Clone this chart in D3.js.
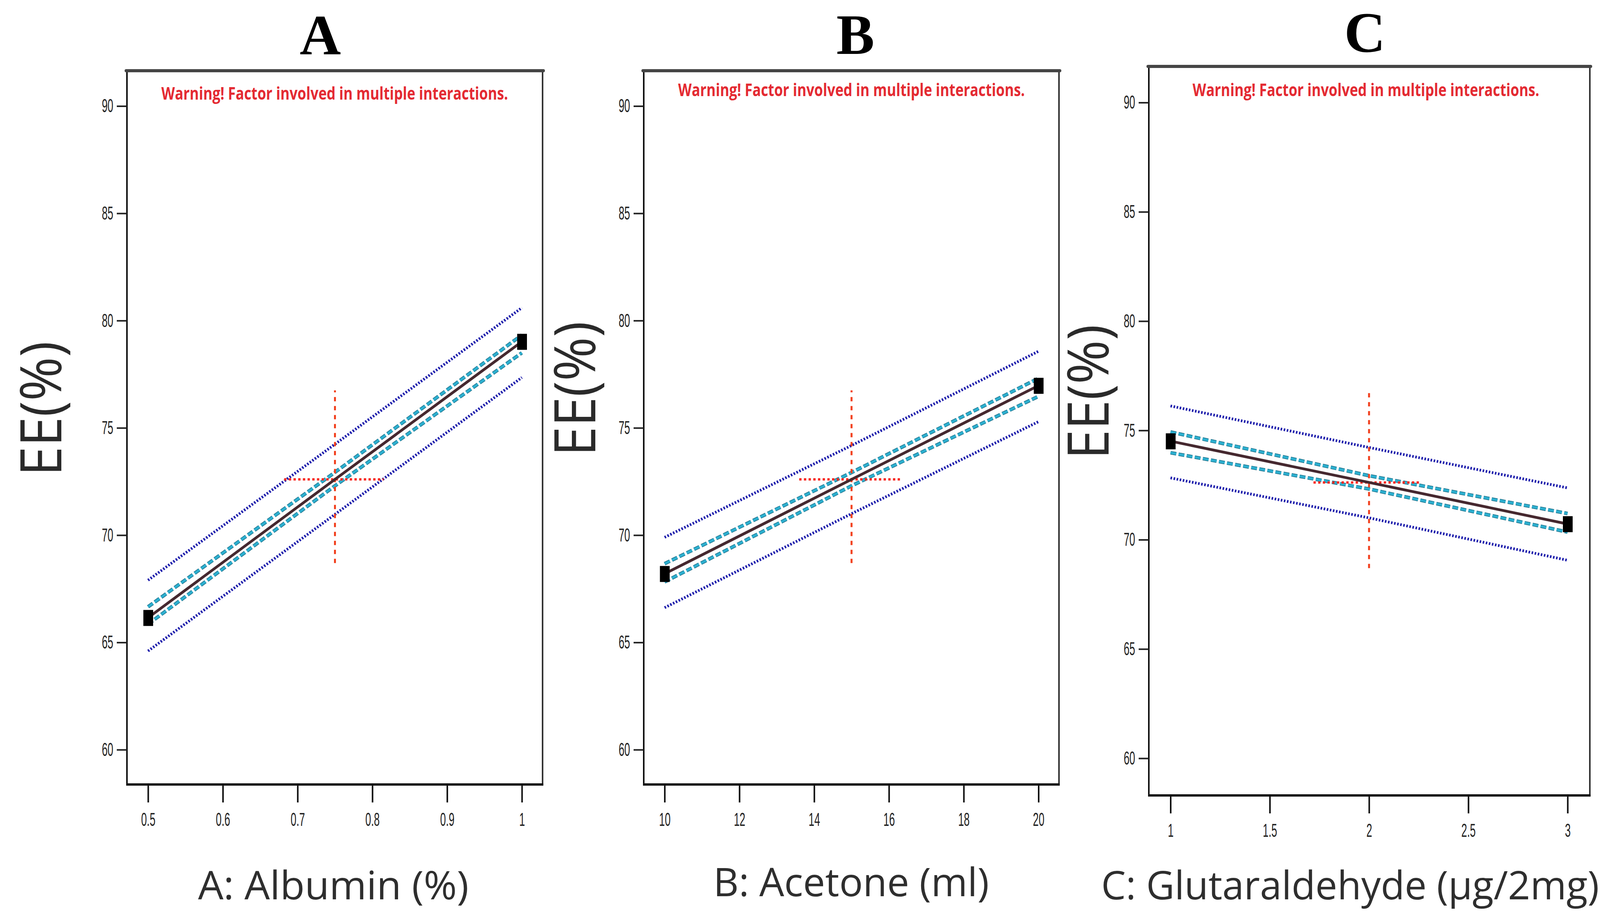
<!DOCTYPE html>
<head>
  <meta charset="utf-8">
  <script src="https://d3js.org/d3.v7.min.js"></script>
  <style>
    body { margin: 0; background: #fff; }
  </style>
</head>
<body>
<div id="vis"></div>
<script>
// ---- data ----
const panelLetters = ["A", "B", "C"];
const xTitles = ["A: Albumin (%)", "B: Acetone (ml)", "C: Glutaraldehyde (\u03bcg/2mg)"];
const yTitle = "EE(%)";
const warningText = "Warning! Factor involved in multiple interactions.";
const yTicks = [60, 65, 70, 75, 80, 85, 90];
const xTicksA = [0.5, 0.6, 0.7, 0.8, 0.9, 1];
const xTicksB = [10, 12, 14, 16, 18, 20];
const xTicksC = [1, 1.5, 2, 2.5, 3];

// factor levels: low, centre, high
const xA = [0.5, 0.75, 1];
const fitA = [66.15, 72.6, 79.02];
const ciHiA = [66.66, 72.93, 79.33];
const ciLoA = [65.85, 72.3, 78.5];
const piHiA = [67.9, 74.24, 80.6];
const piLoA = [64.6, 70.97, 77.35];

const xB = [10, 15, 20];
const fitB = [68.2, 72.6, 76.97];
const ciHiB = [68.67, 72.92, 77.31];
const ciLoB = [67.82, 72.3, 76.47];
const piHiB = [69.9, 74.18, 78.57];
const piLoB = [66.62, 71.0, 75.29];

const xC = [1, 2, 3];
const fitC = [74.51, 72.62, 70.72];
const ciHiC = [74.93, 72.93, 71.2];
const ciLoC = [73.98, 72.32, 70.35];
const piHiC = [76.12, 74.22, 72.37];
const piLoC = [72.83, 71.0, 69.06];

// red cross at the centre point: horizontal extent, vertical extent
const crossHA = [0.682, 0.815];
const crossHB = [13.6, 16.3];
const crossHC = [1.72, 2.26];
const crossV = [68.7, 76.75];

// ---- layout ----
const W = 4135, H = 2360;
const svg = d3.select('#vis').append('svg')
  .attr('width', W).attr('height', H)
  .style('background', '#fff');

const panels = [
  { x: xA, fit: fitA, ciHi: ciHiA, ciLo: ciLoA, piHi: piHiA, piLo: piLoA, ticks: xTicksA, crossH: crossHA,
    box: { l: 325, r: 1389, t: 181, b: 2008 }, xr: [379, 1336], yr: [1919, 271.5],
    title: [820, 139], warn: [413, 255], xt: [507, 2302], xtLen: 693, yt: [157, 1046] },
  { x: xB, fit: fitB, ciHi: ciHiB, ciLo: ciLoB, piHi: piHiB, piLo: piLoB, ticks: xTicksB, crossH: crossHB,
    box: { l: 1648, r: 2711, t: 181, b: 2008 }, xr: [1701.4, 2658.5], yr: [1919, 271.5],
    title: [2190, 138], warn: [1736, 246], xt: [1826, 2294], xtLen: 706, yt: [1524, 995] },
  { x: xC, fit: fitC, ciHi: ciHiC, ciLo: ciLoC, piHi: piHiC, piLo: piLoC, ticks: xTicksC, crossH: crossHC,
    box: { l: 2941, r: 4070, t: 170, b: 2036 }, xr: [2996.5, 4013], yr: [1941, 262.5],
    title: [3494, 133], warn: [3053, 246], xt: [2819, 2302], xtLen: 1275, yt: [2838, 1003] }
];

// squeeze a text horizontally to a given width (start anchored)
function fitText(sel, x0, y0, width, rotate) {
  const w = sel.node().getComputedTextLength();
  const s = width / w;
  if (rotate) {
    sel.attr('text-anchor', 'middle')
      .attr('transform', `translate(${x0},${y0}) rotate(-90) scale(${s},1)`);
  } else {
    sel.attr('text-anchor', 'start')
      .attr('transform', `translate(${x0},${y0}) scale(${s},1)`);
  }
}

function drawPanel(p, i) {
  const g = svg.append('g');
  const x = d3.scaleLinear().domain([p.x[0], p.x[2]]).range(p.xr);
  const y = d3.scaleLinear().domain([60, 90]).range(p.yr);
  const b = p.box;

  // panel letter
  g.append('text')
    .attr('x', p.title[0]).attr('y', p.title[1])
    .attr('text-anchor', 'middle')
    .style('font-family', '"Liberation Serif", "Times New Roman", serif')
    .style('font-weight', 'bold')
    .style('font-size', '146px')
    .attr('fill', '#000')
    .text(panelLetters[i]);

  // frame
  g.append('line').attr('x1', b.l).attr('x2', b.l).attr('y1', b.t).attr('y2', b.b)
    .attr('stroke', '#111').attr('stroke-width', 4);
  g.append('line').attr('x1', b.r).attr('x2', b.r).attr('y1', b.t).attr('y2', b.b)
    .attr('stroke', '#333').attr('stroke-width', 4);
  g.append('line').attr('x1', b.l - 2).attr('x2', b.r + 2).attr('y1', b.b).attr('y2', b.b)
    .attr('stroke', '#111').attr('stroke-width', 6);
  g.append('line').attr('x1', b.l - 2).attr('x2', b.r + 2).attr('y1', b.t).attr('y2', b.t)
    .attr('stroke', '#454545').attr('stroke-width', 8).attr('stroke-linecap', 'round');

  // y axis
  const ya = g.append('g').attr('transform', `translate(${b.l},0)`)
    .call(d3.axisLeft(y).tickValues(yTicks).tickSize(26).tickPadding(9).tickFormat(d3.format('d')));
  ya.select('.domain').remove();
  ya.selectAll('.tick line').attr('stroke', '#222').attr('stroke-width', 4);
  ya.selectAll('.tick text')
    .attr('x', -35 / 0.55)
    .attr('transform', 'scale(0.55,1)')
    .style('font-family', '"Liberation Sans", Arial, sans-serif')
    .style('font-size', '48px')
    .attr('fill', '#222');

  // x axis
  const xa = g.append('g').attr('transform', `translate(0,${b.b})`)
    .call(d3.axisBottom(x).tickValues(p.ticks).tickSize(46).tickPadding(26).tickFormat(d => String(d)));
  xa.select('.domain').remove();
  xa.selectAll('.tick line').attr('stroke', '#111').attr('stroke-width', 4);
  xa.selectAll('.tick text')
    .attr('transform', 'scale(0.55,1)')
    .style('font-family', '"Liberation Sans", Arial, sans-serif')
    .style('font-size', '48px')
    .attr('fill', '#222');

  // warning text
  const warn = g.append('text')
    .style('font-family', '"Open Sans", "Noto Sans", sans-serif')
    .style('font-weight', 'bold')
    .style('font-size', '44px')
    .attr('fill', '#e42a32')
    .text(warningText);
  fitText(warn, p.warn[0], p.warn[1], 888);

  // axis titles
  const xt = g.append('text')
    .style('font-family', '"Open Sans", "Noto Sans", sans-serif')
    .style('font-size', '101px')
    .attr('fill', '#2e2e2e')
    .text(xTitles[i]);
  fitText(xt, p.xt[0], p.xt[1], p.xtLen);

  const yt = g.append('text')
    .style('font-family', '"Open Sans", "Noto Sans", sans-serif')
    .style('font-size', '146px')
    .attr('fill', '#2a2a2a')
    .text(yTitle);
  fitText(yt, p.yt[0], p.yt[1], 345, true);

  const line = d3.line().x(d => x(d[0])).y(d => y(d[1]));
  const pts = arr => p.x.map((v, k) => [v, arr[k]]);

  // prediction band (blue dotted)
  [p.piHi, p.piLo].forEach(arr => {
    g.append('path').attr('d', line(pts(arr)))
      .attr('fill', 'none').attr('stroke', '#1c1cab')
      .attr('stroke-width', 7).attr('stroke-dasharray', '4,4');
  });

  // confidence band (cyan dashed)
  [p.ciHi, p.ciLo].forEach(arr => {
    g.append('path').attr('d', line(pts(arr)))
      .attr('fill', 'none').attr('stroke', '#1f7088')
      .attr('stroke-width', 9).attr('stroke-dasharray', '15,6');
    g.append('path').attr('d', line(pts(arr)))
      .attr('fill', 'none').attr('stroke', '#2db0d0')
      .attr('stroke-width', 6).attr('stroke-dasharray', '15,6');
  });

  // red cross at centre point
  const cx = p.x[1], cy = p.fit[1];
  g.append('line')
    .attr('x1', x(cx)).attr('x2', x(cx))
    .attr('y1', y(crossV[0])).attr('y2', y(crossV[1]))
    .attr('stroke', '#f2401e').attr('stroke-width', 5).attr('stroke-dasharray', '11,12');
  g.append('line')
    .attr('x1', x(p.crossH[0])).attr('x2', x(p.crossH[1]))
    .attr('y1', y(cy)).attr('y2', y(cy))
    .attr('stroke', '#f82a22').attr('stroke-width', 6).attr('stroke-dasharray', '6,6');

  // fitted line
  g.append('path').attr('d', line(pts(p.fit)))
    .attr('fill', 'none').attr('stroke', '#45282f').attr('stroke-width', 7);

  // design points at the ends
  g.selectAll('rect.pt')
    .data([[p.x[0], p.fit[0]], [p.x[2], p.fit[2]]])
    .enter().append('rect')
    .attr('class', 'pt')
    .attr('x', d => x(d[0]) - 12).attr('y', d => y(d[1]) - 20)
    .attr('width', 25).attr('height', 41)
    .attr('fill', '#000');
}

panels.forEach(drawPanel);
</script>
</body>
